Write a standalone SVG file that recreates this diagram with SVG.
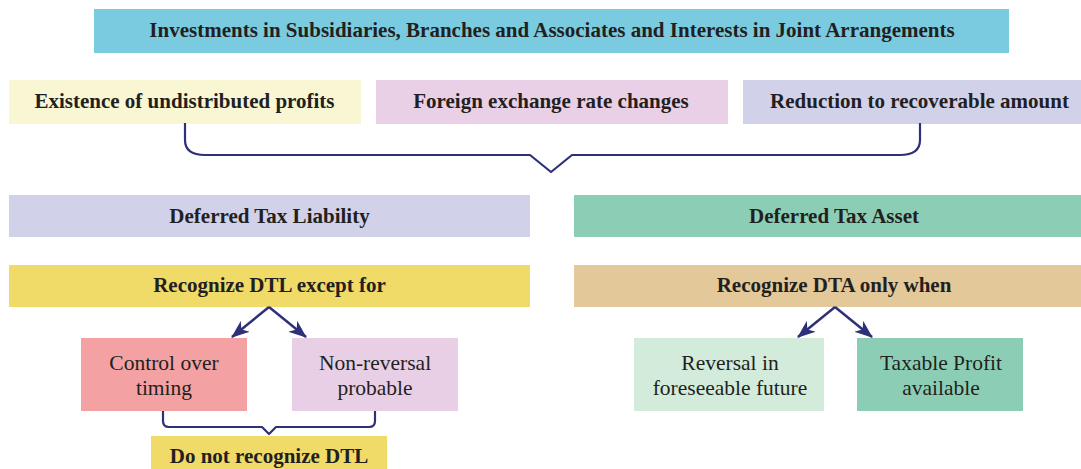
<svg xmlns="http://www.w3.org/2000/svg" width="1081" height="469" viewBox="0 0 1081 469">
<style>
.t{font-family:'Liberation Serif',serif;fill:#231f20;text-anchor:middle}
.b{font-weight:bold;font-size:21px}
.r{font-size:21.5px}
.ln{fill:none;stroke:#2e3079;stroke-width:2.2;stroke-linejoin:round}
.ar{fill:none;stroke:#2e3079;stroke-width:2.5}
</style>
<defs>
<marker id="ah" viewBox="0 0 18 14" refX="17" refY="7" markerWidth="18" markerHeight="14" markerUnits="userSpaceOnUse" orient="auto">
<path d="M0,0 L18,7 L0,14 L5,7 z" fill="#2e3079"/>
</marker>
</defs>
<rect width="1081" height="469" fill="#fff"/>
<g id="investments">
<rect x="94" y="9" width="915" height="44" fill="#7acbe0"/>
<text class="t b" x="552" y="37">Investments in Subsidiaries, Branches and Associates and Interests in Joint Arrangements</text>
</g>
<g id="undistributed">
<rect x="9" y="80" width="352" height="44" fill="#f8f6d3"/>
<text class="t b" x="184.5" y="108">Existence of undistributed profits</text>
</g>
<g id="foreign">
<rect x="376" y="80" width="352" height="44" fill="#e9d0e6"/>
<text class="t b" x="551" y="108">Foreign exchange rate changes</text>
</g>
<g id="reduction">
<rect x="743" y="80" width="338" height="44" fill="#d2d1ea"/>
<text class="t b" x="919.5" y="108">Reduction to recoverable amount</text>
</g>
<g id="dtl">
<rect x="9" y="195" width="521" height="42" fill="#d2d1ea"/>
<text class="t b" x="269.5" y="223">Deferred Tax Liability</text>
</g>
<g id="dta">
<rect x="574" y="195" width="507" height="42" fill="#8cceb5"/>
<text class="t b" x="834" y="223">Deferred Tax Asset</text>
</g>
<g id="recognize-dtl">
<rect x="9" y="265" width="521" height="42" fill="#f0da68"/>
<text class="t b" x="269.5" y="292">Recognize DTL except for</text>
</g>
<g id="recognize-dta">
<rect x="574" y="265" width="507" height="42" fill="#e3c899"/>
<text class="t b" x="834" y="292">Recognize DTA only when</text>
</g>
<g id="control">
<rect x="81" y="338" width="166" height="73" fill="#f4a1a3"/>
<text class="t r" x="164" y="370">Control over</text>
<text class="t r" x="164" y="395">timing</text>
</g>
<g id="nonreversal">
<rect x="292" y="338" width="166" height="73" fill="#e9cfe6"/>
<text class="t r" x="375" y="370">Non-reversal</text>
<text class="t r" x="375" y="395">probable</text>
</g>
<g id="reversal">
<rect x="634" y="338" width="190" height="73" fill="#d2ebdb"/>
<text class="t r" x="730" y="370">Reversal in</text>
<text class="t r" x="730" y="395">foreseeable future</text>
</g>
<g id="taxable">
<rect x="857" y="338" width="166" height="73" fill="#8cceb5"/>
<text class="t r" x="941" y="370">Taxable Profit</text>
<text class="t r" x="941" y="395">available</text>
</g>
<g id="donot">
<rect x="151" y="436" width="236" height="33" fill="#f0da68"/>
<text class="t b" x="269" y="463">Do not recognize DTL</text>
</g>
<g id="connectors">
<path class="ln" d="M185,123 V140 Q185,155 205,155 H530 L551,172 L572,155 H900 Q920,155 920,140 V123"/>
<path class="ar" d="M269,307 L232,337" marker-end="url(#ah)"/>
<path class="ar" d="M269,307 L306,337" marker-end="url(#ah)"/>
<path class="ar" d="M835,307 L798,337" marker-end="url(#ah)"/>
<path class="ar" d="M835,307 L872,337" marker-end="url(#ah)"/>
<path class="ln" d="M163,411 V421 Q163,427 169,427 H262 L269,434 L276,427 H369 Q375,427 375,421 V411"/>
</g>
</svg>
